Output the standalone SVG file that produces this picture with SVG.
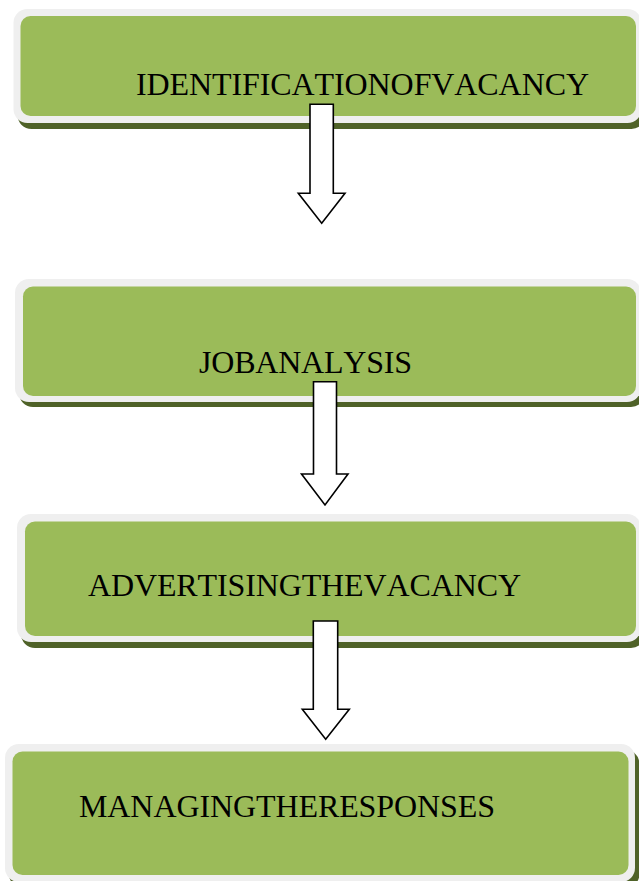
<svg xmlns="http://www.w3.org/2000/svg" width="639" height="881" viewBox="0 0 639 881">
<style>
.shadow{fill:#4F6228}
.rim{fill:#EFEFEF}
.body{fill:#9BBB59}
.label{font-family:"Liberation Serif","Times New Roman",serif;font-size:32px;fill:#000;font-kerning:none}
.arrow{fill:#FFFFFF;stroke:#000;stroke-width:1.6;stroke-linejoin:miter}
</style>
<rect width="639" height="881" fill="#FFFFFF"/>
<g id="node-identification">
<rect class="shadow" x="17.5" y="15" width="628" height="114" rx="14"/>
<rect class="rim" x="13.5" y="9" width="628" height="114" rx="14"/>
<rect class="body" x="20.5" y="16" width="615.5" height="100" rx="10"/>
<text class="label" x="136" y="95" textLength="453" lengthAdjust="spacing">IDENTIFICATIONOFVACANCY</text>
</g>
<g id="node-job-analysis">
<rect class="shadow" x="19" y="284" width="626" height="123" rx="14"/>
<rect class="rim" x="15" y="279" width="626" height="123" rx="14"/>
<rect class="body" x="23" y="286.5" width="613" height="109.5" rx="10"/>
<text class="label" x="199" y="373" textLength="213" lengthAdjust="spacing">JOBANALYSIS</text>
</g>
<g id="node-advertising">
<rect class="shadow" x="21" y="520" width="624" height="128" rx="14"/>
<rect class="rim" x="17" y="514" width="624" height="128" rx="14"/>
<rect class="body" x="25" y="521.5" width="611" height="114.5" rx="10"/>
<text class="label" x="88" y="596" textLength="433" lengthAdjust="spacing">ADVERTISINGTHEVACANCY</text>
</g>
<g id="node-managing">
<rect class="shadow" x="9" y="750" width="630.5" height="138" rx="14"/>
<rect class="rim" x="5" y="744" width="630" height="138" rx="14"/>
<rect class="body" x="12.5" y="751.5" width="616" height="123.5" rx="10"/>
<text class="label" x="79" y="817" textLength="416" lengthAdjust="spacing">MANAGINGTHERESPONSES</text>
</g>
<g id="connectors">
<polygon class="arrow" points="310,104.3 333.3,104.3 333.3,193.3 345,193.3 321.7,223.3 298.3,193.3 310,193.3"/>
<polygon class="arrow" points="313.5,381.7 336.5,381.7 336.5,474 348,474 325,505 301.5,474 313.5,474"/>
<polygon class="arrow" points="313.3,621 337.7,621 337.7,709.3 349.3,709.3 325.7,739.3 302.3,709.3 313.3,709.3"/>
</g>
</svg>
